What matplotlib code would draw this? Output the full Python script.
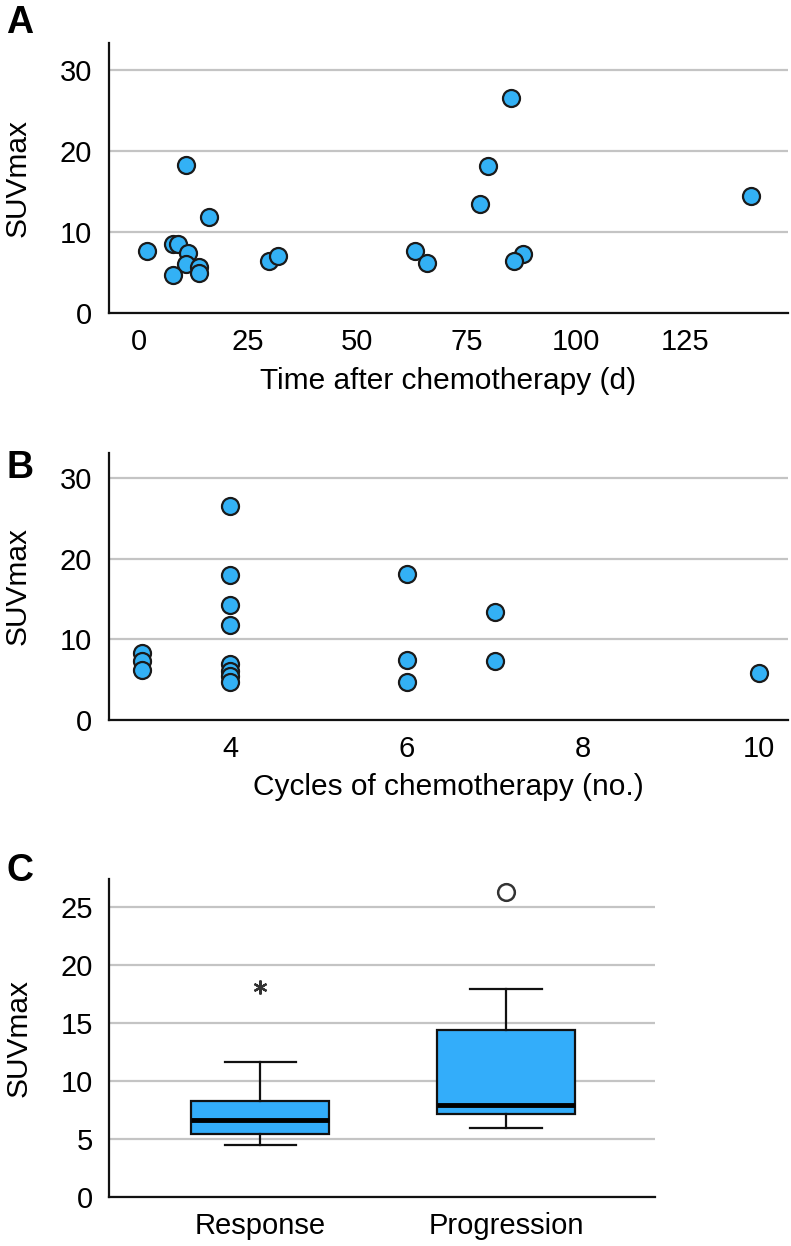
import matplotlib
matplotlib.use("Agg")
import matplotlib.pyplot as plt

plt.rcParams['font.family'] = ['Liberation Sans', 'DejaVu Sans']

# Panel A: time after chemotherapy (days) vs SUVmax
days = [1.9, 10.8, 15.9, 7.8, 8.9, 11.1, 10.8, 7.8, 13.8, 13.8,
        29.8, 31.9, 63.1, 66.0, 85.1, 79.9, 78.0, 140.1, 87.9, 86.0]
suv_days = [7.65, 18.3, 11.8, 8.5, 8.5, 7.4, 6.0, 4.7, 5.6, 4.9,
            6.4, 7.0, 7.65, 6.1, 26.5, 18.1, 13.5, 14.4, 7.3, 6.4]

# Panel B: number of chemotherapy cycles vs SUVmax
cycles = [3, 3, 3, 4, 4, 4, 4, 4, 4, 4, 4, 6, 6, 6, 7, 7, 10]
suv_cycles = [8.3, 7.3, 6.2, 26.5, 18.0, 14.3, 11.7, 6.9, 6.0, 5.4, 4.7,
              18.1, 7.45, 4.7, 13.4, 7.3, 5.8]

# Panel C: box plot summary
groups = ['Response', 'Progression']
whislo = [4.5, 5.9]
q1 = [5.4, 7.15]
med = [6.65, 7.95]
q3 = [8.3, 14.35]
whishi = [11.65, 17.9]
extremes = [[18.1], []]   # marked with *
outliers = [[], [26.3]]   # marked with o

blue = '#33b1f5'
box_blue = '#33adfa'
grid_c = '#c4c4c4'
FS = 21

fig = plt.figure(figsize=(7.91, 12.46), dpi=100)


def style_axes(ax, ylab_x):
    for side in ['top', 'right']:
        ax.spines[side].set_visible(False)
    for side in ['left', 'bottom']:
        ax.spines[side].set_linewidth(1.6)
        ax.spines[side].set_color('#111111')
    ax.yaxis.grid(True, color=grid_c, linewidth=1.6)
    ax.set_axisbelow(True)
    ax.tick_params(axis='y', length=0, labelsize=FS, pad=12)
    ax.tick_params(axis='x', length=0, labelsize=FS, pad=11)
    ax.set_ylabel('SUVmax', fontsize=FS + 0.5)
    ax.yaxis.set_label_coords(ylab_x, 0.5)
    ax.yaxis.label.set_va('center')


# --- A ---
axA = fig.add_axes([0.1378, 0.749, 0.858, 0.2162])
axA.scatter(days, suv_days, s=150, c=blue, edgecolors='#1a1a1a',
            linewidths=1.6, zorder=3)
axA.set_xlim(-6.9, 148.6)
axA.set_ylim(0, 33.3)
axA.set_xticks([0, 25, 50, 75, 100, 125])
axA.set_yticks([0, 10, 20, 30])
axA.set_xlabel('Time after chemotherapy (d)', fontsize=FS + 0.5)
axA.xaxis.set_label_coords(0.5, -0.254)
axA.xaxis.label.set_va('center')
style_axes(axA, -0.134)

# --- B ---
axB = fig.add_axes([0.1378, 0.4225, 0.858, 0.2137])
axB.scatter(cycles, suv_cycles, s=150, c=blue, edgecolors='#1a1a1a',
            linewidths=1.6, zorder=3)
axB.set_xlim(2.62, 10.33)
axB.set_ylim(0, 33.1)
axB.set_xticks([4, 6, 8, 10])
axB.set_yticks([0, 10, 20, 30])
axB.set_xlabel('Cycles of chemotherapy (no.)', fontsize=FS + 0.5)
axB.xaxis.set_label_coords(0.5, -0.254)
axB.xaxis.label.set_va('center')
style_axes(axB, -0.134)

# --- C ---
axC = fig.add_axes([0.1382, 0.0396, 0.6898, 0.2547])
stats = []
for i, g in enumerate(groups):
    stats.append({'label': g, 'whislo': whislo[i], 'q1': q1[i],
                  'med': med[i], 'q3': q3[i], 'whishi': whishi[i],
                  'fliers': []})
axC.bxp(stats, positions=[1, 2], widths=0.56, patch_artist=True,
        showfliers=False,
        boxprops=dict(facecolor=box_blue, edgecolor='#111111', linewidth=1.6),
        medianprops=dict(color='#000000', linewidth=3.5),
        whiskerprops=dict(color='#111111', linewidth=1.6),
        capprops=dict(color='#111111', linewidth=1.6),
        capwidths=0.29)
for i in range(len(groups)):
    for v in extremes[i]:
        axC.plot(i + 1, v, marker=(6, 2, 0), markersize=10,
                 color='#333333', markeredgewidth=1.6, zorder=3)
    for v in outliers[i]:
        axC.plot(i + 1, v, marker='o', markersize=12, markerfacecolor='white',
                 markeredgecolor='#333333', markeredgewidth=1.8, zorder=3)
axC.set_xlim(0.386, 2.606)
axC.set_ylim(0, 27.4)
axC.set_yticks([0, 5, 10, 15, 20, 25])
axC.set_xticks([1, 2])
axC.set_xticklabels(groups)
style_axes(axC, -0.167)

for lab, yy in [('A', 0.9815), ('B', 0.624), ('C', 0.301)]:
    fig.text(0.008, yy, lab, fontsize=27, fontweight='bold', va='center')

fig.savefig('out.png', dpi=100)
